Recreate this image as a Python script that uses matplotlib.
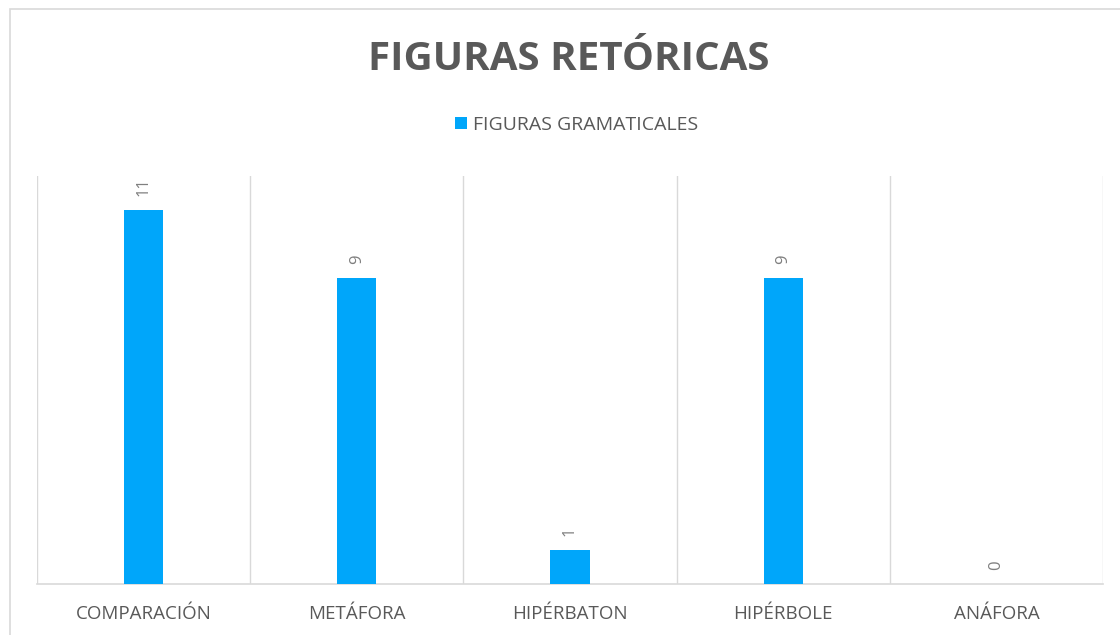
import numpy as np
import matplotlib.pyplot as plt
from matplotlib.patches import Rectangle

# data
categories = ["COMPARACIÓN", "METÁFORA", "HIPÉRBATON", "HIPÉRBOLE", "ANÁFORA"]
values = [11, 9, 1, 9, 0]
series_name = "FIGURAS GRAMATICALES"
title = "FIGURAS RETÓRICAS"

bar_color = "#00A6FA"
text_gray = "#595959"
grid_gray = "#D9D9D9"

plt.rcParams["font.family"] = ["Open Sans", "DejaVu Sans"]

fig = plt.figure(figsize=(11.2, 6.35), dpi=100)

# chart border
fig.patches.append(Rectangle((10 / 1120, -0.01), 1.2, (635 - 9) / 635 + 0.01,
                             transform=fig.transFigure, fill=False,
                             edgecolor="#D9D9D9", linewidth=1.2))

ax = fig.add_axes([37 / 1120, 51 / 635, (1103 - 37) / 1120, (584 - 176) / 635])

x = np.arange(len(categories))
bars = ax.bar(x, values, width=0.183, color=bar_color, zorder=3,
              label=series_name)

ax.set_xlim(-0.5, len(categories) - 0.5)
ax.set_ylim(0, 12)

# vertical gridlines between categories
for b in np.arange(-0.5, len(categories), 1.0):
    ax.axvline(b, color=grid_gray, linewidth=1, zorder=1)

for s in ["top", "right", "left"]:
    ax.spines[s].set_visible(False)
ax.spines["bottom"].set_color(grid_gray)
ax.spines["bottom"].set_linewidth(1.2)

ax.set_yticks([])
ax.set_xticks(x)
ax.set_xticklabels(categories, fontsize=13.5, color=text_gray)
ax.tick_params(axis="x", length=0, pad=15)

# value labels, rotated
for xi, v in zip(x, values):
    ax.annotate(str(v), (xi, v), xytext=(0, 10), textcoords="offset points",
                rotation=90, ha="center", va="bottom", fontsize=12,
                color="#7F7F7F")

fig.text(0.508, 1 - 59 / 635, title, ha="center", va="center",
         fontsize=29, fontweight="bold", color=text_gray)

fig.legend(loc="center", bbox_to_anchor=(0.515, 1 - 125 / 635), frameon=False,
           fontsize=14, handlelength=0.6, handleheight=0.6, handletextpad=0.3,
           labelcolor=text_gray)

plt.savefig("out.png", dpi=100)
